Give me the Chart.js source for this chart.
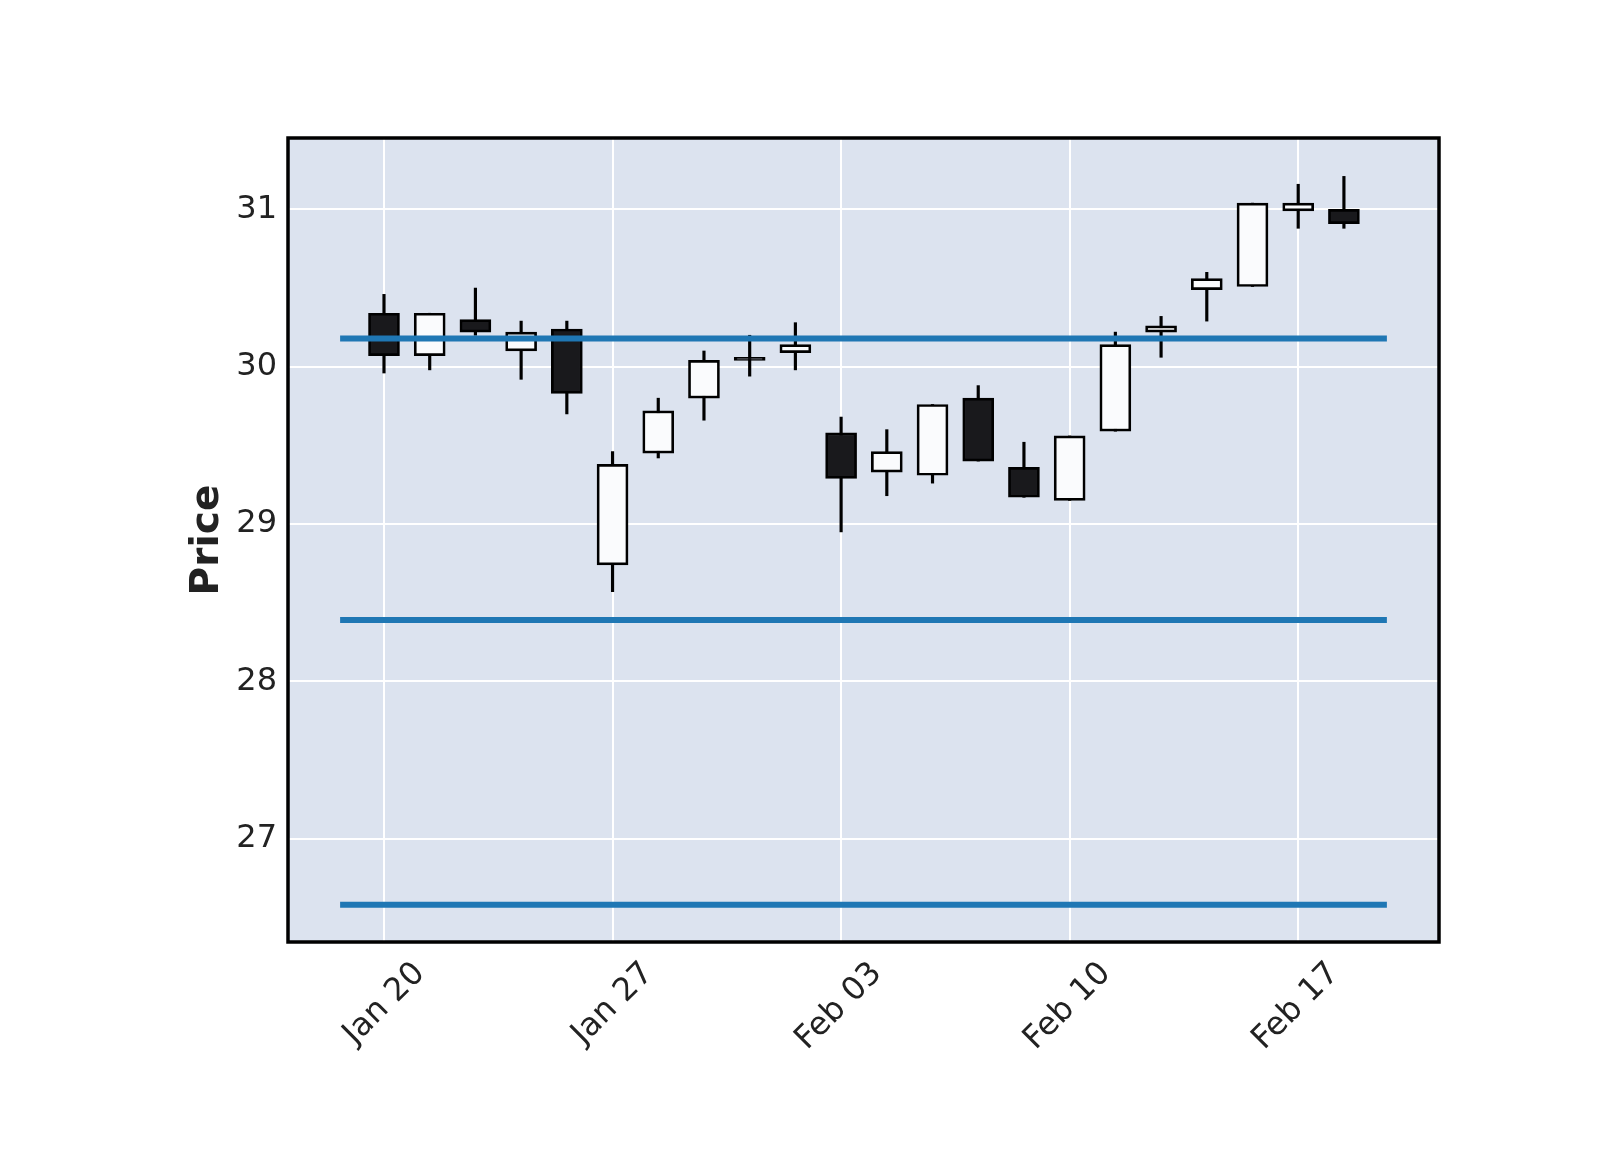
<!DOCTYPE html>
<html>
<head>
<meta charset="utf-8">
<script src="https://cdn.jsdelivr.net/npm/chart.js@4.4.1/dist/chart.umd.min.js"></script>
<style>
  html, body { margin: 0; padding: 0; background: #fff; }
  #wrap { width: 1600px; height: 1150px; }
</style>
</head>
<body>
<div id="wrap"><canvas id="graphicmap" width="1600" height="1150"></canvas></div>
<script>
// daily candles, one per trading day
const dates = ['Jan 20', 'Jan 21', 'Jan 22', 'Jan 23', 'Jan 24',
    'Jan 27', 'Jan 28', 'Jan 29', 'Jan 30', 'Jan 31',
    'Feb 03', 'Feb 04', 'Feb 05', 'Feb 06', 'Feb 07',
    'Feb 10', 'Feb 11', 'Feb 12', 'Feb 13', 'Feb 14',
    'Feb 17', 'Feb 18']
const opens = [30.34, 30.07, 30.30, 30.10, 30.24, 28.74, 29.45, 29.80, 30.06, 30.09, 29.58,
    29.33, 29.31, 29.80, 29.36, 29.15, 29.59, 30.22, 30.49, 30.51, 30.99, 31.00]
const highs = [30.46, 30.34, 30.50, 30.29, 30.29, 29.46, 29.80, 30.10, 30.20, 30.28, 29.68,
    29.60, 29.76, 29.88, 29.52, 29.56, 30.22, 30.32, 30.60, 31.04, 31.16, 31.21]
const lows = [29.96, 29.98, 30.20, 29.92, 29.70, 28.57, 29.42, 29.66, 29.94, 29.98, 28.95,
    29.18, 29.26, 29.40, 29.17, 29.15, 29.59, 30.06, 30.29, 30.51, 30.88, 30.88]
const closes = [30.07, 30.34, 30.22, 30.22, 29.83, 29.38, 29.72, 30.04, 30.04, 30.14, 29.29,
    29.46, 29.76, 29.40, 29.17, 29.56, 30.14, 30.26, 30.56, 31.04, 31.04, 30.91]
// horizontal reference lines
const hlineValues = [30.18, 28.39, 26.58]
const hlineStart = -0.96
const hlineEnd = 21.94
// axis ticks
const xTickIndex = [0, 5, 10, 15, 20]
const xTickLabels = ['Jan 20', 'Jan 27', 'Feb 03', 'Feb 10', 'Feb 17']
const yTicks = [27, 28, 29, 30, 31]

const upColor = '#fafbfd'
const downColor = '#19191c'
const tickFont = { family: 'DejaVu Sans', size: 32 }

//background of the plot area and the black frame round it
const frame = {
    id: 'frame',
    beforeDraw: (chart) => {
        const { ctx, chartArea: a } = chart
        ctx.save()
        ctx.fillStyle = '#dce3ef'
        ctx.fillRect(a.left, a.top, a.right - a.left, a.bottom - a.top)
        ctx.restore()
    },
    afterDraw: (chart) => {
        const { ctx, chartArea: a } = chart
        ctx.save()
        ctx.strokeStyle = '#000'
        ctx.lineWidth = 3.5
        ctx.strokeRect(a.left, a.top, a.right - a.left, a.bottom - a.top)
        ctx.restore()
    }
}

function configGraphAndRender() {
    const grafica = document.querySelector('#graphicmap')

    const wickData = dates.map((d, i) => ({ x: i, y: [lows[i], highs[i]] }))
    const bodyData = dates.map((d, i) => ({ x: i, y: [opens[i], closes[i]] }))
    const bodyColors = dates.map((d, i) => closes[i] >= opens[i] ? upColor : downColor)

    const hlineSets = hlineValues.map((v) => ({
        type: 'line',
        data: [{ x: hlineStart, y: v }, { x: hlineEnd, y: v }],
        borderColor: '#1f77b4',
        borderWidth: 6,
        pointRadius: 0,
        fill: false,
        order: 0
    }))

    const config = {
        type: 'bar',
        data: {
            datasets: [{
                data: wickData,
                backgroundColor: '#000',
                barThickness: 2.5,
                grouped: false,
                order: 3
            }, {
                data: bodyData,
                backgroundColor: bodyColors,
                borderColor: '#000',
                borderWidth: 2.7,
                borderSkipped: false,
                barThickness: 31,
                grouped: false,
                order: 2
            }, ...hlineSets]
        },
        options: {
            responsive: false,
            animation: false,
            layout: { padding: { top: 138, right: 161, left: 0, bottom: 0 } },
            plugins: { legend: { display: false }, tooltip: { enabled: false } },
            scales: {
                x: {
                    type: 'linear',
                    offset: false,
                    min: -2.1,
                    max: 23.08,
                    afterBuildTicks: (scale) => { scale.ticks = xTickIndex.map((v) => ({ value: v })) },
                    afterFit: (scale) => { scale.height = 208 },
                    grid: { color: '#ffffff', lineWidth: 2, drawTicks: false, offset: false },
                    border: { display: false },
                    ticks: {
                        font: tickFont,
                        color: '#222',
                        maxRotation: 45,
                        minRotation: 45,
                        padding: 13,
                        labelOffset: 36,
                        callback: (v) => xTickLabels[xTickIndex.indexOf(v)]
                    }
                },
                y: {
                    min: 26.343,
                    max: 31.454,
                    afterBuildTicks: (scale) => { scale.ticks = yTicks.map((v) => ({ value: v })) },
                    afterFit: (scale) => { scale.width = 288 },
                    grid: { color: '#ffffff', lineWidth: 2, drawTicks: false },
                    border: { display: false },
                    ticks: { font: tickFont, color: '#222', padding: 11 },
                    title: {
                        display: true,
                        text: 'Price',
                        color: '#222',
                        font: { family: 'DejaVu Sans', size: 39, weight: 'bold' },
                        padding: { top: 184, bottom: 0 }
                    }
                }
            }
        },
        plugins: [frame]
    }
    const graphicmap = new Chart(grafica, config)
    graphicmap.render()
}

document.addEventListener('DOMContentLoaded', (event) => {
    configGraphAndRender();
});
</script>
</body>
</html>
